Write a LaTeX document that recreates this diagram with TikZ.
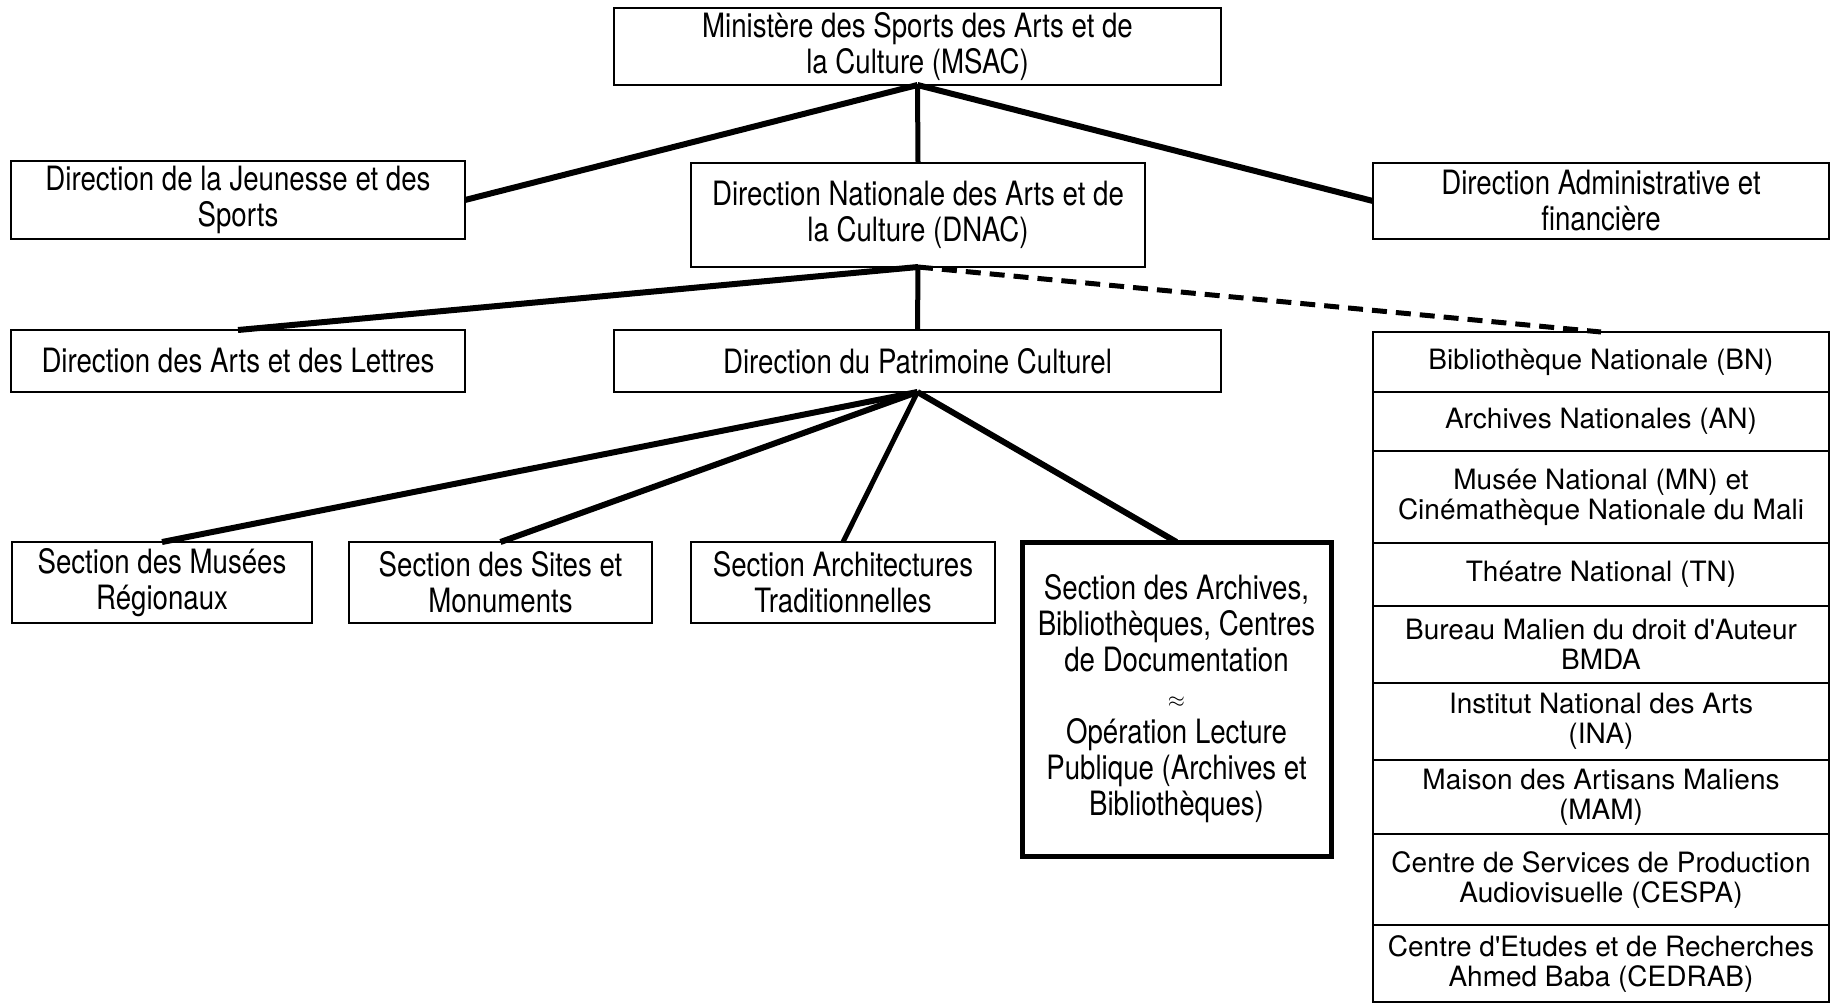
\documentclass[tikz,border=0pt]{standalone}
\usepackage{fontspec}
\usetikzlibrary{positioning}
\newfontfamily\narrowfont[FakeStretch=0.825]{TeX Gyre Heros}
\newfontfamily\plainfont{TeX Gyre Heros}
\newcommand\orgfont{\narrowfont\fontsize{16.75pt}{18pt}\selectfont}
\newcommand\listfont{\plainfont\fontsize{14pt}{15pt}\selectfont}

\begin{document}
\begin{tikzpicture}[x=0.5pt, y=-0.5pt,
  box/.style={draw, line width=1.25pt, inner sep=0pt, outer sep=0pt, align=center, font=\orgfont},
  unit/.style={box, minimum width=228pt, font=\listfont},
  link/.style={line width=3pt},
  trunk/.style={line width=2.5pt},
  loose/.style={line width=2.5pt, dash pattern=on 7.5pt off 4.5pt}]
\useasboundingbox (0,0) rectangle (1831,1003);
%
\node[box, minimum width=303.5pt, minimum height=38.5pt] (msac) at (917.5,46.5) {Ministère des Sports des Arts et de\\la Culture (MSAC)};
\node[box, minimum width=227pt, minimum height=39pt] (djs) at (238,200) {Direction de la Jeunesse et des\\Sports};
\node[box, minimum width=227pt, minimum height=52pt] (dnac) at (918,215) {Direction Nationale des Arts et de\\la Culture (DNAC)};
\node[box, minimum width=228pt, minimum height=38pt] (daf) at (1601,201) {Direction Administrative et\\financière};
\node[box, minimum width=227pt, minimum height=31pt] (dal) at (238,361) {Direction des Arts et des Lettres};
\node[box, minimum width=303.5pt, minimum height=31pt] (dpc) at (917.5,361) {Direction du Patrimoine Culturel};
%
\node[box, minimum width=150pt, minimum height=40.5pt] (smr) at (162,582.5) {Section des Musées\\Régionaux};
\node[box, minimum width=151.5pt, minimum height=40.5pt] (ssm) at (500.5,582.5) {Section des Sites et\\Monuments};
\node[box, minimum width=152pt, minimum height=40.5pt] (sat) at (843,582.5) {Section Architectures\\Traditionnelles};
\node[box, line width=2.5pt, minimum width=154.5pt, minimum height=157pt] (sab) at (1176.5,699) {Section des Archives,\\Bibliothèques, Centres\\de Documentation\\{\fontsize{11pt}{18pt}\selectfont$\approx$}\\Opération Lecture\\Publique (Archives et\\Bibliothèques)};
%
\node[unit, minimum height=30pt] (bn) at (1601,362) {Bibliothèque Nationale (BN)};
\node[unit, minimum height=29.5pt, below=0pt of bn] (an) {Archives Nationales (AN)};
\node[unit, minimum height=46pt, below=0pt of an] (mn) {Musée National (MN) et\\Cinémathèque Nationale du Mali};
\node[unit, minimum height=31.5pt, below=0pt of mn] (tn) {Théatre National (TN)};
\node[unit, minimum height=38.5pt, below=0pt of tn] (bmda) {Bureau Malien du droit d\textquotesingle Auteur\\BMDA};
\node[unit, minimum height=38.5pt, below=0pt of bmda] (ina) {Institut National des Arts\\(INA)};
\node[unit, minimum height=37pt, below=0pt of ina] (mam) {Maison des Artisans Maliens\\(MAM)};
\node[unit, minimum height=45.5pt, below=0pt of mam] (cespa) {Centre de Services de Production\\Audiovisuelle (CESPA)};
\node[unit, minimum height=38.5pt, below=0pt of cespa] (cedrab) {Centre d\textquotesingle Etudes et de Recherches\\Ahmed Baba (CEDRAB)};
%
\draw[link] (msac.south) -- (djs.east);
\draw[link] (msac.south) -- (daf.west);
\draw[trunk] (msac.south) -- (dnac.north);
\draw[link] (dnac.south) -- (dal.north);
\draw[trunk] (dnac.south) -- (dpc.north);
\draw[loose] (dnac.south) -- (bn.north);
\draw[link] (dpc.south) -- (smr.north);
\draw[link] (dpc.south) -- (ssm.north);
\draw[trunk] (dpc.south) -- (sat.north);
\draw[link] (dpc.south) -- (sab.north);
%
\end{tikzpicture}
\end{document}
